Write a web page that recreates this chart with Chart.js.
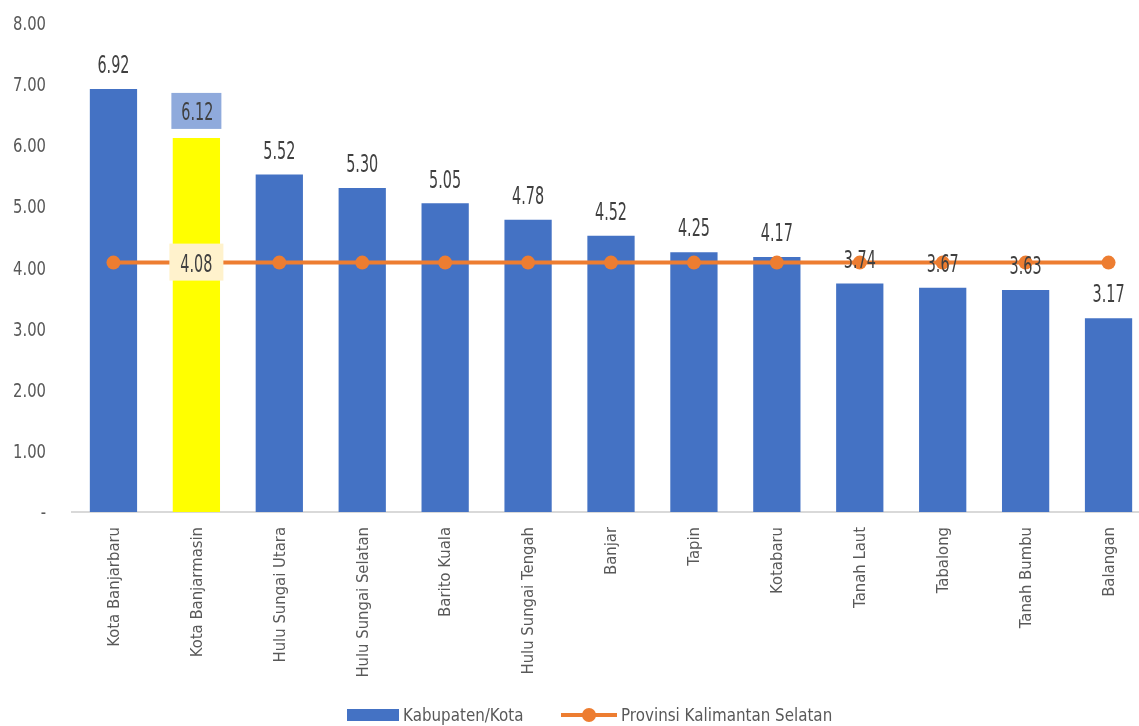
<!DOCTYPE html>
<html>
<head>
<meta charset="utf-8">
<script src="https://cdn.jsdelivr.net/npm/chart.js@4.4.0/dist/chart.umd.min.js"></script>
<style>
    html, body { margin: 0; padding: 0; background: #fff; overflow: hidden; }
    .wrap { position: relative; width: 1150px; height: 726px; }
</style>
</head>
<body>
<div class="wrap"><canvas id="chart" width="1150" height="726"></canvas></div>
<script>
const categories = ['Kota Banjarbaru', 'Kota Banjarmasin', 'Hulu Sungai Utara', 'Hulu Sungai Selatan', 'Barito Kuala',
    'Hulu Sungai Tengah', 'Banjar', 'Tapin', 'Kotabaru', 'Tanah Laut', 'Tabalong', 'Tanah Bumbu', 'Balangan'];
const kabKotaValues = [6.92, 6.12, 5.52, 5.30, 5.05, 4.78, 4.52, 4.25, 4.17, 3.74, 3.67, 3.63, 3.17];
const provinsiValues = [4.08, 4.08, 4.08, 4.08, 4.08, 4.08, 4.08, 4.08, 4.08, 4.08, 4.08, 4.08, 4.08];
const yTicks = [0, 1, 2, 3, 4, 5, 6, 7, 8];
const seriesNames = ['Kabupaten/Kota', 'Provinsi Kalimantan Selatan'];

// no narrow font here, so the text gets squeezed sideways to look like the original
const FONT = '"DejaVu Sans", sans-serif';
const BLUE = '#4472C4';
const ORANGE = '#ED7D31';
const GREY = '#595959';
const DARK = '#404040';
const highlight = 1; // Kota Banjarmasin

const barColors = categories.map((c, i) => i === highlight ? '#FFFF00' : BLUE);

function drawText(ctx, text, x, y, size, sx, align, color, rot) {
    ctx.save();
    ctx.translate(x, y);
    if (rot) ctx.rotate(rot);
    ctx.scale(sx, 1);
    ctx.font = size + 'px ' + FONT;
    ctx.fillStyle = color;
    ctx.textAlign = align;
    ctx.textBaseline = 'middle';
    ctx.fillText(text, 0, 0);
    ctx.restore();
}

const textPlugin = {
    id: 'textPlugin',
    afterDatasetsDraw(chart) {
        const ctx = chart.ctx;
        const xs = chart.scales.x;
        const ys = chart.scales.y;

        // axis labels
        yTicks.forEach(v => {
            drawText(ctx, v === 0 ? '-' : v.toFixed(2), 46, ys.getPixelForValue(v) + 2, 19.5, 0.76, 'right', GREY);
        });
        categories.forEach((c, i) => {
            drawText(ctx, c, xs.getPixelForValue(i) + 1, 527, 16.5, 0.9, 'right', GREY, -Math.PI / 2);
        });

        // bar values
        chart.getDatasetMeta(1).data.forEach((bar, i) => {
            const txt = kabKotaValues[i].toFixed(2);
            if (i === highlight) {
                ctx.fillStyle = '#8FAADC';
                ctx.fillRect(bar.x - 25, bar.y - 45, 50, 36);
                drawText(ctx, txt, bar.x + 1, bar.y - 24, 24, 0.6, 'center', DARK);
            } else {
                drawText(ctx, txt, bar.x, bar.y - 22, 24, 0.6, 'center', DARK);
            }
        });

        // provincial value, shown once
        const pt = chart.getDatasetMeta(0).data[highlight];
        ctx.fillStyle = '#FFF2CC';
        ctx.fillRect(pt.x - 27, pt.y - 19, 54, 37);
        drawText(ctx, provinsiValues[highlight].toFixed(2), pt.x, pt.y + 3, 24, 0.6, 'center', DARK);
    },
    afterDraw(chart) {
        const ctx = chart.ctx;
        const y = 715;
        ctx.save();
        ctx.fillStyle = BLUE;
        ctx.fillRect(347, y - 6, 52, 12);
        ctx.strokeStyle = ORANGE;
        ctx.lineWidth = 4;
        ctx.beginPath();
        ctx.moveTo(561, y);
        ctx.lineTo(617, y);
        ctx.stroke();
        ctx.fillStyle = ORANGE;
        ctx.beginPath();
        ctx.arc(589, y, 7, 0, Math.PI * 2);
        ctx.fill();
        ctx.restore();
        drawText(ctx, seriesNames[0], 403, y + 1, 18, 0.84, 'left', GREY);
        drawText(ctx, seriesNames[1], 621, y + 1, 18, 0.84, 'left', GREY);
    }
};

new Chart(document.getElementById('chart'), {
    data: {
        labels: categories,
        datasets: [{
            type: 'line',
            label: seriesNames[1],
            data: provinsiValues,
            borderColor: ORANGE,
            backgroundColor: ORANGE,
            borderWidth: 4,
            pointRadius: 7,
            pointBorderWidth: 0,
            pointBackgroundColor: ORANGE,
            order: 0
        }, {
            type: 'bar',
            label: seriesNames[0],
            data: kabKotaValues,
            backgroundColor: barColors,
            categoryPercentage: 1,
            barPercentage: 0.57,
            order: 1
        }]
    },
    options: {
        responsive: false,
        animation: false,
        layout: { autoPadding: false, padding: { top: 23, right: 0, bottom: 39, left: 0 } },
        plugins: {
            legend: { display: false },
            tooltip: { enabled: false }
        },
        scales: {
            x: {
                grid: { display: false, drawTicks: false },
                border: { color: '#D9D9D9', width: 2 },
                ticks: { display: false },
                afterFit(scale) { scale.height = 175; }
            },
            y: {
                min: 0,
                max: 8,
                grid: { display: false, drawTicks: false },
                border: { display: false },
                ticks: { display: false, stepSize: 1 },
                afterFit(scale) { scale.width = 72; }
            }
        }
    },
    plugins: [textPlugin]
});
</script>
</body>
</html>
